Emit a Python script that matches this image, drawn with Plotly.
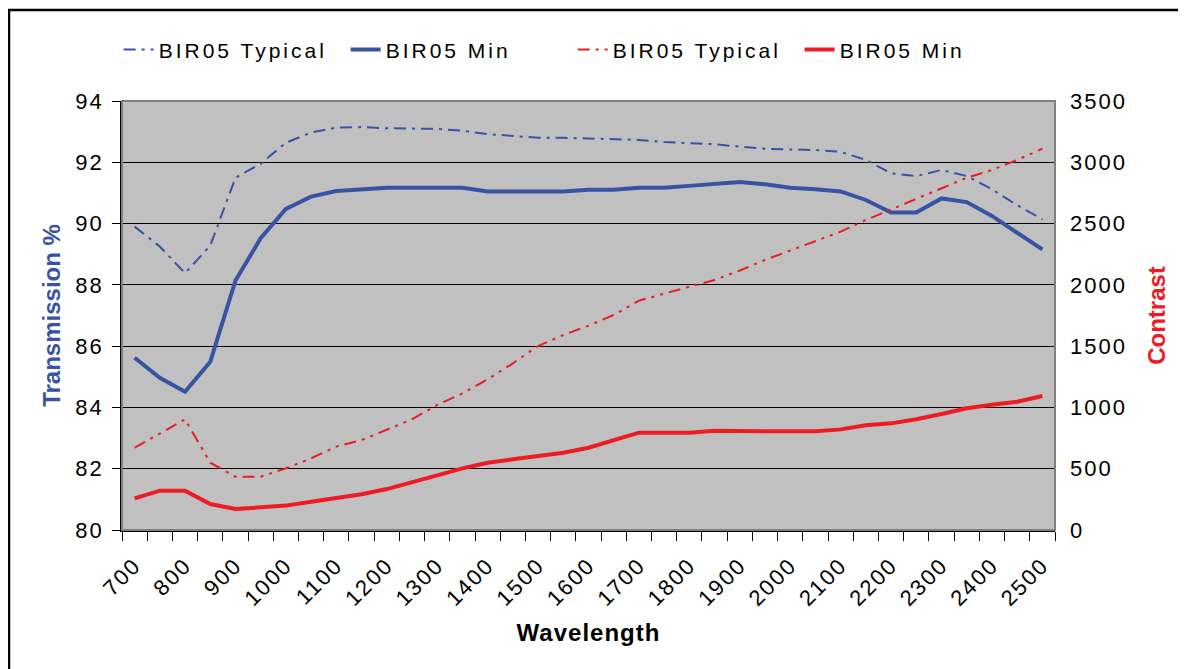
import plotly.graph_objects as go

wavelength = [700 + 50 * i for i in range(37)]

blue_typical = [89.9, 89.25, 88.38, 89.28, 91.5, 91.95, 92.64, 92.97, 93.13, 93.15,
                93.11, 93.1, 93.09, 93.03, 92.92, 92.86, 92.8, 92.8, 92.78, 92.74,
                92.73, 92.66, 92.62, 92.59, 92.51, 92.44, 92.42, 92.4, 92.34, 92.08,
                91.64, 91.55, 91.75, 91.55, 91.12, 90.6, 90.14]

blue_min = [85.62, 84.97, 84.51, 85.49, 88.14, 89.52, 90.48, 90.88, 91.06, 91.12,
            91.17, 91.17, 91.18, 91.17, 91.05, 91.05, 91.05, 91.05, 91.1, 91.1,
            91.17, 91.17, 91.23, 91.28, 91.36, 91.28, 91.17, 91.12, 91.05, 90.77,
            90.36, 90.36, 90.82, 90.7, 90.25, 89.7, 89.16]

red_typical = [671, 789, 903, 549, 435, 435, 503, 585, 680, 734,
               816, 903, 1020, 1115, 1229, 1360, 1501, 1591, 1667, 1754,
               1871, 1925, 1985, 2040, 2117, 2203, 2279, 2352, 2434, 2529,
               2616, 2706, 2788, 2874, 2937, 3019, 3111]

red_min = [258, 321, 321, 212, 171, 185, 199, 231, 261, 291,
           334, 394, 446, 503, 549, 577, 604, 631, 671, 734,
           794, 794, 794, 810, 805, 805, 805, 805, 821, 854,
           870, 903, 946, 993, 1022, 1047, 1093]

left_ticks = [80, 82, 84, 86, 88, 90, 92, 94]
right_ticks = [0, 500, 1000, 1500, 2000, 2500, 3000, 3500]
x_labels = [700 + 100 * i for i in range(19)]

BLUE = "#3953A4"
RED = "#ED1C24"
FONT = "Liberation Sans, Arial, sans-serif"


def spaced(text, px=2):
    return f'<span style="letter-spacing:{px}px">{text}</span>'


fig = go.Figure()
fig.add_trace(go.Scatter(x=wavelength, y=blue_typical, name=spaced("BIR05 Typical", 3),
                         mode="lines",
                         line=dict(color=BLUE, width=2, dash="12px,6px,3px,6px")))
fig.add_trace(go.Scatter(x=wavelength, y=blue_min, name=spaced("BIR05 Min", 3), mode="lines",
                         line=dict(color=BLUE, width=4)))
fig.add_trace(go.Scatter(x=wavelength, y=red_typical, name=spaced("BIR05 Typical", 3),
                         mode="lines", yaxis="y2",
                         line=dict(color=RED, width=2, dash="12px,6px,3px,6px,3px,6px")))
fig.add_trace(go.Scatter(x=wavelength, y=red_min, name=spaced("BIR05 Min", 3), mode="lines",
                         yaxis="y2", line=dict(color=RED, width=4)))

fig.update_layout(
    width=1178, height=661,
    margin=dict(l=114, r=131, t=93, b=139),
    paper_bgcolor="white",
    plot_bgcolor="#C0C0C0",
    font=dict(family=FONT, size=22, color="black"),
    showlegend=True,
    legend=dict(orientation="h", x=0.483, y=1.119, xanchor="center", yanchor="middle",
                font=dict(size=21), bgcolor="rgba(0,0,0,0)",
                entrywidth=182, entrywidthmode="pixels",
                tracegroupgap=0),
    xaxis=dict(
        range=[675, 2525], tickmode="array", tickvals=x_labels,
        ticktext=[spaced(str(v), 2) for v in x_labels], tickangle=-45,
        ticks="outside", ticklen=12, tickcolor="rgba(0,0,0,0)",
        showgrid=False, zeroline=False, showline=True, linecolor="black", linewidth=1.5,
        tickfont=dict(size=22),
        minor=dict(tick0=675, dtick=50, ticks="outside", ticklen=9, tickcolor="black",
                   tickwidth=1.2, showgrid=False),
        title=dict(text=spaced("<b>Wavelength</b>", 1), font=dict(size=24), standoff=14),
    ),
    yaxis=dict(
        range=[80, 94], tickmode="array", tickvals=left_ticks,
        ticktext=[spaced(str(v), 2) for v in left_ticks], ticks="outside",
        ticklen=8, tickcolor="black", showgrid=True, gridcolor="black", gridwidth=1,
        zeroline=False, showline=True, linecolor="black", linewidth=1.5,
        tickfont=dict(size=22), ticklabelstandoff=4,
        title=dict(text="<b>Transmission %</b>", font=dict(size=24, color=BLUE), standoff=8),
    ),
    yaxis2=dict(
        range=[0, 3500], tickmode="array", tickvals=right_ticks,
        ticktext=[spaced(str(v), 2) for v in right_ticks], overlaying="y",
        side="right", ticks="", showgrid=False, zeroline=False, showline=False,
        tickfont=dict(size=22), ticklabelstandoff=14,
        title=dict(text="<b>Contrast</b>", font=dict(size=24, color=RED), standoff=22),
    ),
    shapes=[
        dict(type="rect", xref="paper", yref="paper", x0=0, x1=1, y0=0, y1=1,
             line=dict(color="#808080", width=2), layer="above"),
        dict(type="rect", xref="paper", yref="paper", x0=-0.1211, x1=1.2, y0=-0.5, y1=1.2121,
             line=dict(color="black", width=2.5), layer="below"),
    ],
)

fig.write_html("out.html")
